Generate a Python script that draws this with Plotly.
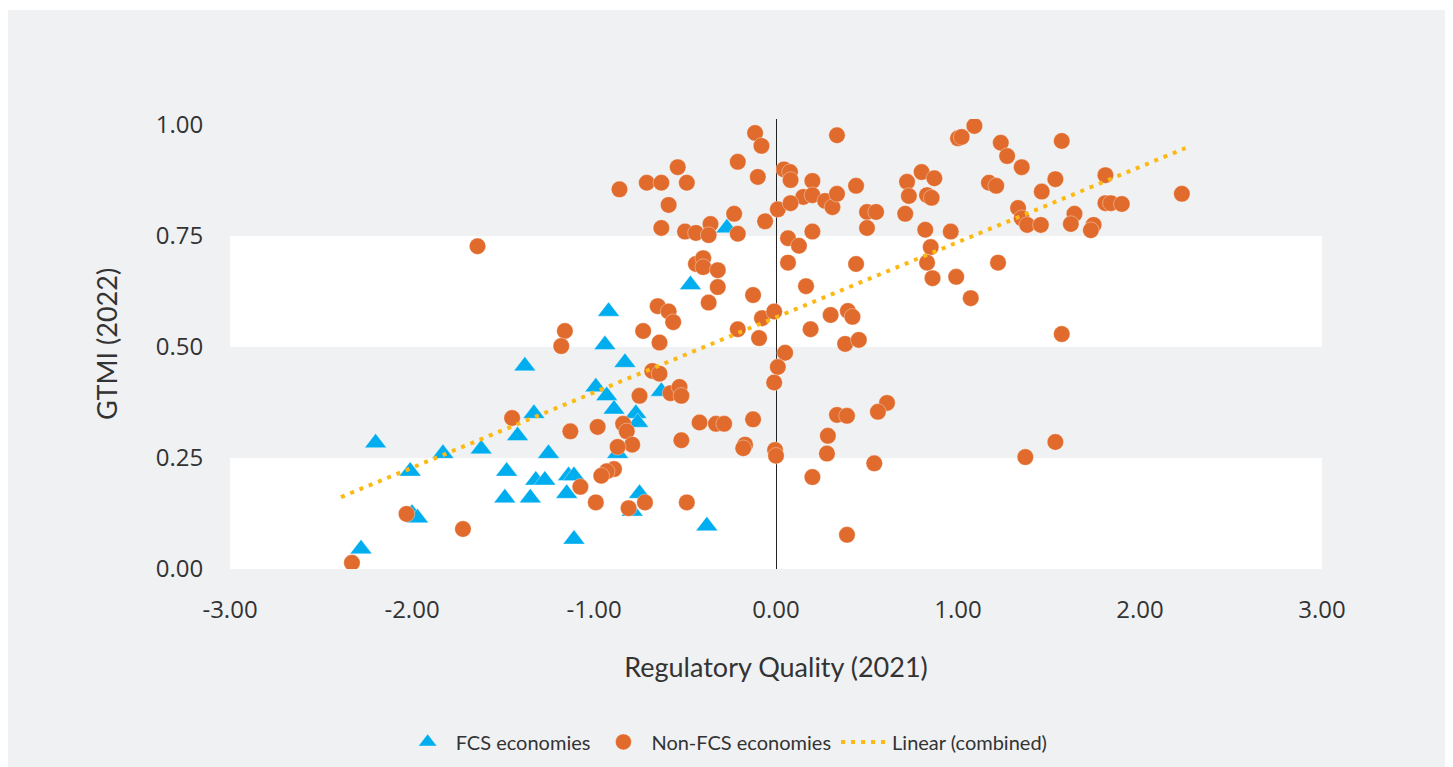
import plotly.graph_objects as go

# FCS economies (triangles)
fcs_x = [-2.28, -2.20, -2.01, -2.00, -1.97, -1.83, -1.62, -1.49, -1.48, -1.42,
         -1.38, -1.33, -1.35, -1.32, -1.27, -1.25, -1.14, -1.11, -1.15, -1.11,
         -0.47, -0.92, -0.94, -0.83, -0.99, -0.93, -0.89, -0.77, -0.76, -0.63,
         -0.87, -0.75, -0.79, -0.38, -0.27]
fcs_y = [0.045, 0.284, 0.22, 0.125, 0.115, 0.26, 0.27, 0.16, 0.22, 0.30,
         0.457, 0.35, 0.16, 0.20, 0.20, 0.26, 0.21, 0.21, 0.17, 0.067,
         0.64, 0.58, 0.505, 0.465, 0.41, 0.39, 0.36, 0.35, 0.33, 0.40,
         0.26, 0.17, 0.13, 0.097, 0.768]

# Non-FCS economies (circles)
non_x = [-1.16, -1.18, -1.45, -1.13, -1.075, -2.03, -1.72, -2.33, -1.64,
         -0.32, -0.126, -0.37, -0.65, -0.59, -0.565, -0.73, -0.64, -0.21, -0.077,
         -0.01, -0.093, 0.05, 0.01, -0.01, -0.68, -0.64, -0.75, -0.58, -0.53,
         -0.52, -0.98, -0.84, -0.82, -0.79, -0.87, -0.52, -0.42, -0.33, -0.285,
         -0.126, -0.17, -0.18, -0.005, 0.0, -0.89, -0.93, -0.96, -0.99, -0.81,
         -0.72, -0.49,
         -0.115, -0.08, -0.21, -0.10, 0.044, -0.54, -0.86, -0.71, -0.63, -0.49,
         -0.59, -0.23, -0.06, 0.01, -0.63, -0.50, -0.44, -0.36, -0.37, -0.21,
         -0.44, -0.40, -0.40, -0.32,
         0.335, 0.077, 0.08, 0.20, 0.44, 0.15, 0.20, 0.08, 0.27, 0.31, 0.335,
         0.50, 0.55, 0.50, 0.72, 0.80, 0.87, 0.73, 0.83, 0.855, 0.71, 0.82,
         0.96, 0.85, 0.83, 0.86, 0.99, 1.0, 0.066, 0.126, 0.20, 0.066, 0.44,
         0.165,
         0.30, 0.395, 0.42, 0.19, 0.38, 0.455, 0.61, 0.56, 0.335, 0.39, 0.285,
         0.28, 0.54, 0.20, 0.39,
         1.09, 1.02, 1.235, 1.27, 1.35, 1.57, 1.17, 1.21, 1.535, 1.46, 1.81,
         1.81, 1.84, 1.90, 1.33, 1.35, 1.38, 1.455, 1.64, 1.62, 1.745, 1.73,
         2.23, 1.22, 1.07, 1.57, 1.535, 1.37]
non_y = [0.536, 0.502, 0.34, 0.31, 0.185, 0.124, 0.09, 0.014, 0.727,
         0.635, 0.617, 0.60, 0.592, 0.58, 0.556, 0.536, 0.51, 0.54, 0.565,
         0.58, 0.52, 0.487, 0.455, 0.42, 0.446, 0.44, 0.39, 0.396, 0.41,
         0.39, 0.32, 0.327, 0.31, 0.28, 0.275, 0.29, 0.33, 0.327, 0.327,
         0.337, 0.28, 0.272, 0.268, 0.255, 0.225, 0.22, 0.21, 0.15, 0.137,
         0.15, 0.15,
         0.982, 0.953, 0.917, 0.883, 0.90, 0.905, 0.855, 0.87, 0.87, 0.87,
         0.82, 0.80, 0.783, 0.81, 0.768, 0.76, 0.757, 0.777, 0.752, 0.755,
         0.687, 0.70, 0.68, 0.673,
         0.977, 0.894, 0.876, 0.874, 0.863, 0.838, 0.842, 0.824, 0.829, 0.815,
         0.845, 0.804, 0.804, 0.768, 0.872, 0.894, 0.88, 0.84, 0.842, 0.836,
         0.80, 0.764, 0.76, 0.725, 0.69, 0.655, 0.658, 0.97, 0.745, 0.728,
         0.76, 0.69, 0.687, 0.637,
         0.572, 0.581, 0.568, 0.54, 0.507, 0.516, 0.374, 0.354, 0.347, 0.345,
         0.30, 0.26, 0.238, 0.207, 0.077,
         0.998, 0.973, 0.96, 0.93, 0.905, 0.964, 0.87, 0.863, 0.878, 0.85,
         0.887, 0.824, 0.824, 0.822, 0.813, 0.79, 0.775, 0.775, 0.80, 0.777,
         0.775, 0.763, 0.845, 0.69, 0.61, 0.529, 0.286, 0.252]

# Linear trend (combined) endpoints
trend_x = [-2.39, 2.25]
trend_y = [0.162, 0.948]

x_ticks = [-3, -2, -1, 0, 1, 2, 3]
y_ticks = [0, 0.25, 0.5, 0.75, 1.0]

BG = "#F0F1F3"
ORANGE = "#E06B2C"
BLUE = "#00AEEF"
TREND = "#FDB913"
TEXT = "#333333"

fig = go.Figure()
fig.add_trace(go.Scatter(
    x=fcs_x, y=fcs_y, mode="markers", name="FCS economies",
    marker=dict(symbol="triangle-up", size=19, color=BLUE,
                line=dict(width=0.6, color="rgba(255,255,255,0.6)"))))
fig.add_trace(go.Scatter(
    x=non_x, y=non_y, mode="markers", name="Non-FCS economies",
    marker=dict(symbol="circle", size=16.5, color=ORANGE,
                line=dict(width=0.6, color="rgba(255,255,255,0.6)"))))
fig.add_trace(go.Scatter(
    x=trend_x, y=trend_y, mode="lines", name="Linear (combined)",
    line=dict(color=TREND, width=4, dash="4px,6px")))

# page has an 8px body margin; figure sized to fill the rest
W, H = 1445, 759
L, R, T, B = 222, 131, 111, 198
pw = W - L - R
ph = H - T - B

shapes = [
    dict(type="rect", xref="paper", yref="paper",
         x0=-L / pw, x1=(1439 - L) / pw,
         y0=(T + ph - H) / ph, y1=(T + ph - 2) / ph,
         fillcolor=BG, line=dict(width=0), layer="below"),
]
for lo, hi in [(0, 0.25), (0.5, 0.75)]:
    shapes.append(dict(type="rect", xref="x", yref="y", x0=-3, x1=3, y0=lo, y1=hi,
                       fillcolor="white", line=dict(width=0), layer="below"))

fig.update_layout(
    width=W, height=H,
    margin=dict(l=L, r=R, t=T, b=B, autoexpand=False),
    paper_bgcolor="white", plot_bgcolor="rgba(0,0,0,0)",
    shapes=shapes,
    font=dict(family="Open Sans", color=TEXT),
    showlegend=True,
    legend=dict(orientation="h", xref="container", yref="container",
                x=0.497, xanchor="center", y=0.033, yanchor="middle",
                itemwidth=46,
                font=dict(family="Lato", size=20, color=TEXT),
                bgcolor="rgba(0,0,0,0)", traceorder="normal"),
    xaxis=dict(range=[-3, 3], tickvals=x_ticks,
               ticktext=[f"{v:.2f}" for v in x_ticks],
               showgrid=False, zeroline=True, zerolinecolor="#222222", zerolinewidth=1,
               showline=False, ticks="outside", ticklen=19, tickcolor="rgba(0,0,0,0)",
               tickfont=dict(family="Open Sans", size=24, color=TEXT),
               automargin=False,
               title=dict(text="Regulatory Quality (2021)", standoff=34,
                          font=dict(family="Lato", size=27, color=TEXT)),
               fixedrange=True),
    yaxis=dict(range=[0, 1.0135], tickvals=y_ticks,
               ticktext=[f"{v:.2f}" for v in y_ticks],
               showgrid=False, zeroline=False, showline=False,
               ticks="outside", ticklen=21, tickcolor="rgba(0,0,0,0)",
               tickfont=dict(family="Open Sans", size=24, color=TEXT),
               automargin=False,
               title=dict(text="GTMI (2022)", standoff=30,
                          font=dict(family="Lato", size=27, color=TEXT)),
               fixedrange=True),
)

fig.write_html("out.html")
